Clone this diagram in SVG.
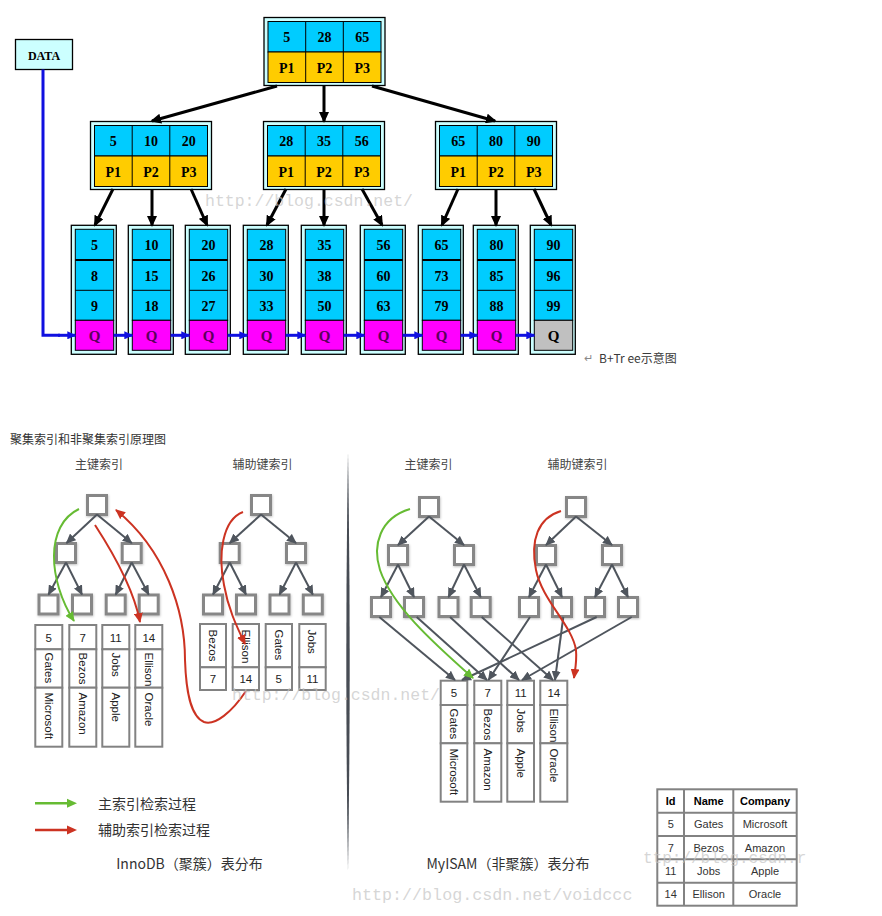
<svg xmlns="http://www.w3.org/2000/svg" width="882" height="916" viewBox="0 0 882 916">
<defs>
<style>
.ob{fill:#ccffff;stroke:#000;stroke-width:1.3}
.cy{fill:#00ccff;stroke:#000;stroke-width:1}
.gd{fill:#ffcc00;stroke:#000;stroke-width:1}
.mg{fill:#ff00ff;stroke:#000;stroke-width:1}
.gy{fill:#c0c0c0;stroke:#000;stroke-width:1}
.dv{stroke:#000;stroke-width:1}
.dv2{stroke:#000;stroke-width:2}
.tb{font-family:"Liberation Serif",serif;font-weight:bold;font-size:14px;text-anchor:middle;fill:#000}
.q{fill:#5a005a;font-size:15px}
.ba{stroke:#000;stroke-width:3;fill:none;marker-end:url(#ab)}
.bl{stroke:#1010e0;stroke-width:3;fill:none}
.bla{stroke:#1010e0;stroke-width:3;fill:none;marker-end:url(#abl)}
.sq{fill:#fff;stroke:#878787;stroke-width:3;filter:url(#sh)}
.ga{stroke:#4f555d;stroke-width:2;fill:none;marker-end:url(#ag)}
.cell{fill:#fff;stroke:#828282;stroke-width:2}
.st{font-family:"Liberation Sans",Arial,sans-serif;font-size:11.5px;fill:#222}
.mid{text-anchor:middle}
.cj{font-family:"Noto Sans CJK SC",sans-serif;fill:#333}
.gc{stroke:#66bb33;stroke-width:2;fill:none;marker-end:url(#agn)}
.rc{stroke:#cc3322;stroke-width:2;fill:none;marker-end:url(#ard)}
.wm{font-family:"Liberation Mono",monospace;font-size:16.5px;fill:#c4c4c4;fill-opacity:.7}
.tt{font-family:"Liberation Sans",Arial,sans-serif;font-size:11px;fill:#333;text-anchor:middle}
.th{font-weight:bold;fill:#000}
</style>
<marker id="ab" markerUnits="userSpaceOnUse" markerWidth="11" markerHeight="10" refX="9" refY="5" orient="auto"><path d="M0,0 L11,5 L0,10 z" fill="#000"/></marker>
<marker id="abl" markerUnits="userSpaceOnUse" markerWidth="9" markerHeight="8" refX="8" refY="4" orient="auto"><path d="M0,0 L9,4 L0,8 z" fill="#1010e0"/></marker>
<marker id="ag" markerUnits="userSpaceOnUse" markerWidth="10" markerHeight="9" refX="9" refY="4.5" orient="auto"><path d="M0,0 L10,4.5 L0,9 z" fill="#4f555d"/></marker>
<marker id="agn" markerUnits="userSpaceOnUse" markerWidth="10" markerHeight="9" refX="9" refY="4.5" orient="auto"><path d="M0,0 L10,4.5 L0,9 z" fill="#66bb33"/></marker>
<marker id="ard" markerUnits="userSpaceOnUse" markerWidth="10" markerHeight="9" refX="9" refY="4.5" orient="auto"><path d="M0,0 L10,4.5 L0,9 z" fill="#cc3322"/></marker>
<filter id="sh" x="-30%" y="-30%" width="160%" height="160%"><feDropShadow dx="0.5" dy="1" stdDeviation="1" flood-color="#000" flood-opacity="0.25"/></filter>
</defs>
<rect width="882" height="916" fill="#fff"/>

<!-- ========== B+Tree ========== -->
<g id="data">
<rect x="15.5" y="39.5" width="57" height="30" fill="#ccffff" stroke="#000" stroke-width="1.3"/>
<text x="44" y="59.5" class="tb" style="font-size:12px">DATA</text>
</g>

<g id="root">
<rect class="ob" x="264" y="17.5" width="121" height="68"/>
<rect class="cy" x="268" y="21.5" width="113" height="30.5"/>
<rect class="gd" x="268" y="52" width="113" height="30.5"/>
<line class="dv" x1="305.7" y1="21.5" x2="305.7" y2="82.5"/><line class="dv" x1="343.3" y1="21.5" x2="343.3" y2="82.5"/>
<text class="tb" x="286.8" y="42">5</text><text class="tb" x="324.5" y="42">28</text><text class="tb" x="362.2" y="42">65</text>
<text class="tb" x="286.8" y="72.5">P1</text><text class="tb" x="324.5" y="72.5">P2</text><text class="tb" x="362.2" y="72.5">P3</text>
</g>

<g id="n-left">
<rect class="ob" x="90.5" y="121.5" width="121" height="68"/>
<rect class="cy" x="94.5" y="125.5" width="113" height="30.5"/>
<rect class="gd" x="94.5" y="156" width="113" height="30.5"/>
<line class="dv" x1="132.2" y1="125.5" x2="132.2" y2="186.5"/><line class="dv" x1="169.8" y1="125.5" x2="169.8" y2="186.5"/>
<text class="tb" x="113.3" y="146">5</text><text class="tb" x="151" y="146">10</text><text class="tb" x="188.7" y="146">20</text>
<text class="tb" x="113.3" y="176.5">P1</text><text class="tb" x="151" y="176.5">P2</text><text class="tb" x="188.7" y="176.5">P3</text>
</g>

<g id="n-mid">
<rect class="ob" x="263.5" y="121.5" width="121" height="68"/>
<rect class="cy" x="267.5" y="125.5" width="113" height="30.5"/>
<rect class="gd" x="267.5" y="156" width="113" height="30.5"/>
<line class="dv" x1="305.2" y1="125.5" x2="305.2" y2="186.5"/><line class="dv" x1="342.8" y1="125.5" x2="342.8" y2="186.5"/>
<text class="tb" x="286.3" y="146">28</text><text class="tb" x="324" y="146">35</text><text class="tb" x="361.7" y="146">56</text>
<text class="tb" x="286.3" y="176.5">P1</text><text class="tb" x="324" y="176.5">P2</text><text class="tb" x="361.7" y="176.5">P3</text>
</g>

<g id="n-right">
<rect class="ob" x="435.5" y="121.5" width="121" height="68"/>
<rect class="cy" x="439.5" y="125.5" width="113" height="30.5"/>
<rect class="gd" x="439.5" y="156" width="113" height="30.5"/>
<line class="dv" x1="477.2" y1="125.5" x2="477.2" y2="186.5"/><line class="dv" x1="514.8" y1="125.5" x2="514.8" y2="186.5"/>
<text class="tb" x="458.3" y="146">65</text><text class="tb" x="496" y="146">80</text><text class="tb" x="533.7" y="146">90</text>
<text class="tb" x="458.3" y="176.5">P1</text><text class="tb" x="496" y="176.5">P2</text><text class="tb" x="533.7" y="176.5">P3</text>
</g>

<g id="leaf1" transform="translate(71.3,0)">
<rect class="ob" x="0" y="225.3" width="45" height="129"/>
<rect class="cy" x="4" y="229.3" width="38.4" height="91"/><rect class="mg" x="4" y="320.3" width="38.4" height="30"/>
<line class="dv2" x1="4" y1="260" x2="42.4" y2="260"/><line class="dv" x1="4" y1="290.3" x2="42.4" y2="290.3"/>
<text class="tb" x="23.2" y="250">5</text><text class="tb" x="23.2" y="280.5">8</text><text class="tb" x="23.2" y="310.5">9</text><text class="tb q" x="23.2" y="341">Q</text>
</g>
<g id="leaf2" transform="translate(128.3,0)">
<rect class="ob" x="0" y="225.3" width="45" height="129"/>
<rect class="cy" x="4" y="229.3" width="38.4" height="91"/><rect class="mg" x="4" y="320.3" width="38.4" height="30"/>
<line class="dv2" x1="4" y1="260" x2="42.4" y2="260"/><line class="dv" x1="4" y1="290.3" x2="42.4" y2="290.3"/>
<text class="tb" x="23.2" y="250">10</text><text class="tb" x="23.2" y="280.5">15</text><text class="tb" x="23.2" y="310.5">18</text><text class="tb q" x="23.2" y="341">Q</text>
</g>
<g id="leaf3" transform="translate(185.3,0)">
<rect class="ob" x="0" y="225.3" width="45" height="129"/>
<rect class="cy" x="4" y="229.3" width="38.4" height="91"/><rect class="mg" x="4" y="320.3" width="38.4" height="30"/>
<line class="dv2" x1="4" y1="260" x2="42.4" y2="260"/><line class="dv" x1="4" y1="290.3" x2="42.4" y2="290.3"/>
<text class="tb" x="23.2" y="250">20</text><text class="tb" x="23.2" y="280.5">26</text><text class="tb" x="23.2" y="310.5">27</text><text class="tb q" x="23.2" y="341">Q</text>
</g>
<g id="leaf4" transform="translate(243.3,0)">
<rect class="ob" x="0" y="225.3" width="45" height="129"/>
<rect class="cy" x="4" y="229.3" width="38.4" height="91"/><rect class="mg" x="4" y="320.3" width="38.4" height="30"/>
<line class="dv2" x1="4" y1="260" x2="42.4" y2="260"/><line class="dv" x1="4" y1="290.3" x2="42.4" y2="290.3"/>
<text class="tb" x="23.2" y="250">28</text><text class="tb" x="23.2" y="280.5">30</text><text class="tb" x="23.2" y="310.5">33</text><text class="tb q" x="23.2" y="341">Q</text>
</g>
<g id="leaf5" transform="translate(301.3,0)">
<rect class="ob" x="0" y="225.3" width="45" height="129"/>
<rect class="cy" x="4" y="229.3" width="38.4" height="91"/><rect class="mg" x="4" y="320.3" width="38.4" height="30"/>
<line class="dv2" x1="4" y1="260" x2="42.4" y2="260"/><line class="dv" x1="4" y1="290.3" x2="42.4" y2="290.3"/>
<text class="tb" x="23.2" y="250">35</text><text class="tb" x="23.2" y="280.5">38</text><text class="tb" x="23.2" y="310.5">50</text><text class="tb q" x="23.2" y="341">Q</text>
</g>
<g id="leaf6" transform="translate(360.3,0)">
<rect class="ob" x="0" y="225.3" width="45" height="129"/>
<rect class="cy" x="4" y="229.3" width="38.4" height="91"/><rect class="mg" x="4" y="320.3" width="38.4" height="30"/>
<line class="dv2" x1="4" y1="260" x2="42.4" y2="260"/><line class="dv" x1="4" y1="290.3" x2="42.4" y2="290.3"/>
<text class="tb" x="23.2" y="250">56</text><text class="tb" x="23.2" y="280.5">60</text><text class="tb" x="23.2" y="310.5">63</text><text class="tb q" x="23.2" y="341">Q</text>
</g>
<g id="leaf7" transform="translate(418.3,0)">
<rect class="ob" x="0" y="225.3" width="45" height="129"/>
<rect class="cy" x="4" y="229.3" width="38.4" height="91"/><rect class="mg" x="4" y="320.3" width="38.4" height="30"/>
<line class="dv2" x1="4" y1="260" x2="42.4" y2="260"/><line class="dv" x1="4" y1="290.3" x2="42.4" y2="290.3"/>
<text class="tb" x="23.2" y="250">65</text><text class="tb" x="23.2" y="280.5">73</text><text class="tb" x="23.2" y="310.5">79</text><text class="tb q" x="23.2" y="341">Q</text>
</g>
<g id="leaf8" transform="translate(473.3,0)">
<rect class="ob" x="0" y="225.3" width="45" height="129"/>
<rect class="cy" x="4" y="229.3" width="38.4" height="91"/><rect class="mg" x="4" y="320.3" width="38.4" height="30"/>
<line class="dv2" x1="4" y1="260" x2="42.4" y2="260"/><line class="dv" x1="4" y1="290.3" x2="42.4" y2="290.3"/>
<text class="tb" x="23.2" y="250">80</text><text class="tb" x="23.2" y="280.5">85</text><text class="tb" x="23.2" y="310.5">88</text><text class="tb q" x="23.2" y="341">Q</text>
</g>
<g id="leaf9" transform="translate(530.3,0)">
<rect class="ob" x="0" y="225.3" width="45" height="129"/>
<rect class="cy" x="4" y="229.3" width="38.4" height="91"/><rect class="gy" x="4" y="320.3" width="38.4" height="30"/>
<line class="dv2" x1="4" y1="260" x2="42.4" y2="260"/><line class="dv" x1="4" y1="290.3" x2="42.4" y2="290.3"/>
<text class="tb" x="23.2" y="250">90</text><text class="tb" x="23.2" y="280.5">96</text><text class="tb" x="23.2" y="310.5">99</text><text class="tb" x="23.2" y="341" style="font-size:15px">Q</text>
</g>

<g id="btree-connectors">
<line class="ba" x1="277" y1="86" x2="152" y2="121"/>
<line class="ba" x1="324" y1="86" x2="324" y2="121"/>
<line class="ba" x1="372" y1="86" x2="495" y2="121"/>
<line class="ba" x1="113" y1="189" x2="95" y2="225"/>
<line class="ba" x1="152" y1="189" x2="152" y2="225"/>
<line class="ba" x1="191" y1="189" x2="207" y2="225"/>
<line class="ba" x1="286" y1="189" x2="267" y2="225"/>
<line class="ba" x1="324" y1="189" x2="324" y2="225"/>
<line class="ba" x1="362" y1="189" x2="382" y2="225"/>
<line class="ba" x1="458" y1="189" x2="442" y2="225"/>
<line class="ba" x1="496" y1="189" x2="496" y2="225"/>
<line class="ba" x1="534" y1="189" x2="551" y2="225"/>
<polyline class="bl" points="43,69.5 43,335.3 60,335.3"/>
<line class="bla" x1="58" y1="335.3" x2="75.3" y2="335.3"/>
<line class="bla" x1="113.7" y1="335.3" x2="132.3" y2="335.3"/>
<line class="bla" x1="170.7" y1="335.3" x2="189.3" y2="335.3"/>
<line class="bla" x1="227.7" y1="335.3" x2="247.3" y2="335.3"/>
<line class="bla" x1="285.7" y1="335.3" x2="305.3" y2="335.3"/>
<line class="bla" x1="343.7" y1="335.3" x2="364.3" y2="335.3"/>
<line class="bla" x1="402.7" y1="335.3" x2="422.3" y2="335.3"/>
<line class="bla" x1="460.7" y1="335.3" x2="477.3" y2="335.3"/>
<line class="bla" x1="515.7" y1="335.3" x2="534.3" y2="335.3"/>
</g>

<text x="584" y="362" style="font-family:'Liberation Sans',sans-serif;font-size:11px;fill:#888">↵</text>
<text x="599" y="362.5" class="cj" style="font-size:12px;fill:#3a3a3a">B+Tr ee示意图</text>

<!-- ========== Clustered / non-clustered ========== -->
<text x="10" y="444" class="cj" style="font-size:12px;fill:#333">聚集索引和非聚集索引原理图</text>
<text x="99" y="468.5" class="cj mid" style="font-size:12px;fill:#444">主键索引</text>
<text x="262.5" y="468.5" class="cj mid" style="font-size:12px;fill:#444">辅助键索引</text>
<text x="428.5" y="468.5" class="cj mid" style="font-size:12px;fill:#444">主键索引</text>
<text x="577.5" y="468.5" class="cj mid" style="font-size:12px;fill:#444">辅助键索引</text>

<path id="divider" d="M348,452 Q351.4,661 348,871 Q344.6,661 348,452 Z" fill="#474c54"/>

<g id="inno-primary-tree">
<rect class="sq" x="87.5" y="495.5" width="19" height="19"/>
<rect class="sq" x="56.5" y="543.5" width="19" height="19"/>
<rect class="sq" x="122.2" y="543.5" width="19" height="19"/>
<rect class="sq" x="39" y="595" width="19" height="19"/>
<rect class="sq" x="72.5" y="595" width="19" height="19"/>
<rect class="sq" x="106.2" y="595" width="19" height="19"/>
<rect class="sq" x="139.2" y="595" width="19" height="19"/>
</g>
<g id="inno-secondary-tree">
<rect class="sq" x="251.5" y="495.5" width="19" height="19"/>
<rect class="sq" x="220.2" y="543.5" width="19" height="19"/>
<rect class="sq" x="286.5" y="543.5" width="19" height="19"/>
<rect class="sq" x="203.5" y="595" width="19" height="19"/>
<rect class="sq" x="236.5" y="595" width="19" height="19"/>
<rect class="sq" x="270" y="595" width="19" height="19"/>
<rect class="sq" x="303.3" y="595" width="19" height="19"/>
</g>
<g id="myisam-primary-tree">
<rect class="sq" x="419.5" y="497.5" width="19" height="19"/>
<rect class="sq" x="388.5" y="545.5" width="19" height="19"/>
<rect class="sq" x="454.5" y="545.5" width="19" height="19"/>
<rect class="sq" x="371.5" y="597.5" width="19" height="19"/>
<rect class="sq" x="404.5" y="597.5" width="19" height="19"/>
<rect class="sq" x="439" y="597.5" width="19" height="19"/>
<rect class="sq" x="471.2" y="597.5" width="19" height="19"/>
</g>
<g id="myisam-secondary-tree">
<rect class="sq" x="566.5" y="497.5" width="19" height="19"/>
<rect class="sq" x="536.5" y="545.5" width="19" height="19"/>
<rect class="sq" x="602.5" y="545.5" width="19" height="19"/>
<rect class="sq" x="519.5" y="597.5" width="19" height="19"/>
<rect class="sq" x="552.5" y="597.5" width="19" height="19"/>
<rect class="sq" x="585.5" y="597.5" width="19" height="19"/>
<rect class="sq" x="618.5" y="597.5" width="19" height="19"/>
</g>

<g id="inno-primary-table">
<rect class="cell" x="35.3" y="625" width="27" height="24.3"/><rect class="cell" x="35.3" y="649.3" width="27" height="38.4"/><rect class="cell" x="35.3" y="687.7" width="27" height="59"/>
<rect class="cell" x="69.3" y="625" width="27" height="24.3"/><rect class="cell" x="69.3" y="649.3" width="27" height="38.4"/><rect class="cell" x="69.3" y="687.7" width="27" height="59"/>
<rect class="cell" x="102.3" y="625" width="27" height="24.3"/><rect class="cell" x="102.3" y="649.3" width="27" height="38.4"/><rect class="cell" x="102.3" y="687.7" width="27" height="59"/>
<rect class="cell" x="135.3" y="625" width="27" height="24.3"/><rect class="cell" x="135.3" y="649.3" width="27" height="38.4"/><rect class="cell" x="135.3" y="687.7" width="27" height="59"/>
<text class="st mid" x="48.8" y="641.5">5</text><text class="st mid" x="82.8" y="641.5">7</text><text class="st mid" x="115.8" y="641.5">11</text><text class="st mid" x="148.8" y="641.5">14</text>
<text class="st" transform="translate(44.7,652.5) rotate(90)">Gates</text>
<text class="st" transform="translate(78.7,652.5) rotate(90)">Bezos</text>
<text class="st" transform="translate(111.7,652.5) rotate(90)">Jobs</text>
<text class="st" transform="translate(144.7,652.5) rotate(90)">Ellison</text>
<text class="st" transform="translate(44.7,692.5) rotate(90)">Microsoft</text>
<text class="st" transform="translate(78.7,692.5) rotate(90)">Amazon</text>
<text class="st" transform="translate(111.7,692.5) rotate(90)">Apple</text>
<text class="st" transform="translate(144.7,692.5) rotate(90)">Oracle</text>
</g>

<g id="inno-secondary-table">
<rect class="cell" x="200" y="624" width="26" height="43.3"/><rect class="cell" x="200" y="667.3" width="26" height="22.7"/>
<rect class="cell" x="232.7" y="624" width="26.3" height="43.3"/><rect class="cell" x="232.7" y="667.3" width="26.3" height="22.7"/>
<rect class="cell" x="265.7" y="624" width="26.3" height="43.3"/><rect class="cell" x="265.7" y="667.3" width="26.3" height="22.7"/>
<rect class="cell" x="299.3" y="624" width="26.4" height="43.3"/><rect class="cell" x="299.3" y="667.3" width="26.4" height="22.7"/>
<text class="st" transform="translate(208.9,629.5) rotate(90)">Bezos</text>
<text class="st" transform="translate(241.7,629.5) rotate(90)">Ellison</text>
<text class="st" transform="translate(274.7,629.5) rotate(90)">Gates</text>
<text class="st" transform="translate(308.4,629.5) rotate(90)">Jobs</text>
<text class="st mid" x="213" y="683">7</text><text class="st mid" x="245.8" y="683">14</text><text class="st mid" x="278.8" y="683">5</text><text class="st mid" x="312.5" y="683">11</text>
</g>

<g id="myisam-table">
<rect class="cell" x="440.7" y="680.7" width="26.6" height="24.3"/><rect class="cell" x="440.7" y="705" width="26.6" height="38.3"/><rect class="cell" x="440.7" y="743.3" width="26.6" height="58.4"/>
<rect class="cell" x="474.3" y="680.7" width="27" height="24.3"/><rect class="cell" x="474.3" y="705" width="27" height="38.3"/><rect class="cell" x="474.3" y="743.3" width="27" height="58.4"/>
<rect class="cell" x="507.3" y="680.7" width="26.7" height="24.3"/><rect class="cell" x="507.3" y="705" width="26.7" height="38.3"/><rect class="cell" x="507.3" y="743.3" width="26.7" height="58.4"/>
<rect class="cell" x="540.3" y="680.7" width="27" height="24.3"/><rect class="cell" x="540.3" y="705" width="27" height="38.3"/><rect class="cell" x="540.3" y="743.3" width="27" height="58.4"/>
<text class="st mid" x="454" y="697">5</text><text class="st mid" x="487.8" y="697">7</text><text class="st mid" x="520.7" y="697">11</text><text class="st mid" x="553.8" y="697">14</text>
<text class="st" transform="translate(449.9,708.5) rotate(90)">Gates</text>
<text class="st" transform="translate(483.7,708.5) rotate(90)">Bezos</text>
<text class="st" transform="translate(516.6,708.5) rotate(90)">Jobs</text>
<text class="st" transform="translate(549.7,708.5) rotate(90)">Ellison</text>
<text class="st" transform="translate(449.9,748.5) rotate(90)">Microsoft</text>
<text class="st" transform="translate(483.7,748.5) rotate(90)">Amazon</text>
<text class="st" transform="translate(516.6,748.5) rotate(90)">Apple</text>
<text class="st" transform="translate(549.7,748.5) rotate(90)">Oracle</text>
</g>

<g id="index-connectors">
<line class="ga" x1="97" y1="514.5" x2="66.5" y2="543"/>
<line class="ga" x1="97" y1="514.5" x2="131.7" y2="543"/>
<line class="ga" x1="66" y1="562.5" x2="48.5" y2="594.5"/>
<line class="ga" x1="66" y1="562.5" x2="82" y2="594.5"/>
<line class="ga" x1="131.7" y1="562.5" x2="115.7" y2="594.5"/>
<line class="ga" x1="131.7" y1="562.5" x2="148.7" y2="594.5"/>

<line class="ga" x1="261" y1="514.5" x2="229.7" y2="543"/>
<line class="ga" x1="261" y1="514.5" x2="296" y2="543"/>
<line class="ga" x1="229.7" y1="562.5" x2="213" y2="594.5"/>
<line class="ga" x1="229.7" y1="562.5" x2="246" y2="594.5"/>
<line class="ga" x1="296" y1="562.5" x2="279.5" y2="594.5"/>
<line class="ga" x1="296" y1="562.5" x2="312.8" y2="594.5"/>

<line class="ga" x1="429" y1="516.5" x2="398" y2="545"/>
<line class="ga" x1="429" y1="516.5" x2="464" y2="545"/>
<line class="ga" x1="398" y1="564.5" x2="381" y2="597"/>
<line class="ga" x1="398" y1="564.5" x2="414" y2="597"/>
<line class="ga" x1="464" y1="564.5" x2="448.5" y2="597"/>
<line class="ga" x1="464" y1="564.5" x2="480.7" y2="597"/>

<line class="ga" x1="576" y1="516.5" x2="546" y2="545"/>
<line class="ga" x1="576" y1="516.5" x2="612" y2="545"/>
<line class="ga" x1="546" y1="564.5" x2="529" y2="597"/>
<line class="ga" x1="546" y1="564.5" x2="562" y2="597"/>
<line class="ga" x1="612" y1="564.5" x2="595" y2="597"/>
<line class="ga" x1="612" y1="564.5" x2="628" y2="597"/>

<line class="ga" x1="379.3" y1="617" x2="455" y2="680"/>
<line class="ga" x1="416.7" y1="617" x2="487" y2="680"/>
<line class="ga" x1="450" y1="617" x2="519" y2="680"/>
<line class="ga" x1="481.7" y1="617" x2="553" y2="680"/>
<line class="ga" x1="530" y1="617" x2="488.5" y2="680"/>
<line class="ga" x1="563.3" y1="617" x2="555" y2="680"/>
<line class="ga" x1="596.7" y1="617" x2="462" y2="680"/>
<line class="ga" x1="631.7" y1="617" x2="522" y2="680"/>

<path class="gc" d="M79,509 C45,525 48,580 74,621"/>
<path class="rc" d="M95,525 C108,545 133,585 140,622"/>
<path class="rc" d="M246,691 C232,712 215,726 204,722 C190,716 186,690 185,660 C185,610 165,550 116,510"/>
<path class="rc" d="M243,512 C222,520 218,555 224,585 C228,608 236,625 245,644"/>
<path class="gc" d="M410,509 C380,518 372,545 380,570 C392,605 430,640 473,678"/>
<path class="rc" d="M561,511 C538,518 530,540 536,570 C542,600 572,625 576,650 C577,662 575,670 574,678"/>
</g>

<g id="legend">
<line x1="35" y1="803.3" x2="70" y2="803.3" stroke="#66bb33" stroke-width="2.5"/>
<path d="M67,798.8 L77,803.3 L67,807.8 z" fill="#66bb33"/>
<text x="98" y="808.5" class="cj" style="font-size:14px">主索引检索过程</text>
<line x1="35" y1="830" x2="70" y2="830" stroke="#cc3322" stroke-width="2.5"/>
<path d="M67,825.5 L77,830 L67,834.5 z" fill="#cc3322"/>
<text x="98" y="835" class="cj" style="font-size:14px">辅助索引检索过程</text>
</g>

<text x="189.5" y="869" class="cj mid" style="font-size:14px">InnoDB（聚簇）表分布</text>
<text x="508" y="869" class="cj mid" style="font-size:14px">MyISAM（非聚簇）表分布</text>

<g id="data-table">
<rect x="657.3" y="789.3" width="139.4" height="116.4" fill="#fff" stroke="#828282" stroke-width="2"/>
<line x1="684" y1="789.3" x2="684" y2="905.7" stroke="#828282" stroke-width="2"/>
<line x1="733.3" y1="789.3" x2="733.3" y2="905.7" stroke="#828282" stroke-width="2"/>
<line x1="657.3" y1="812.7" x2="796.7" y2="812.7" stroke="#828282" stroke-width="2"/>
<line x1="657.3" y1="836" x2="796.7" y2="836" stroke="#828282" stroke-width="2"/>
<line x1="657.3" y1="859.3" x2="796.7" y2="859.3" stroke="#828282" stroke-width="2"/>
<line x1="657.3" y1="882.7" x2="796.7" y2="882.7" stroke="#828282" stroke-width="2"/>
<text class="tt th" x="670.7" y="805">Id</text><text class="tt th" x="708.7" y="805">Name</text><text class="tt th" x="765" y="805">Company</text>
<text class="tt" x="670.7" y="828.3">5</text><text class="tt" x="708.7" y="828.3">Gates</text><text class="tt" x="765" y="828.3">Microsoft</text>
<text class="tt" x="670.7" y="851.7">7</text><text class="tt" x="708.7" y="851.7">Bezos</text><text class="tt" x="765" y="851.7">Amazon</text>
<text class="tt" x="670.7" y="875">11</text><text class="tt" x="708.7" y="875">Jobs</text><text class="tt" x="765" y="875">Apple</text>
<text class="tt" x="670.7" y="898.2">14</text><text class="tt" x="708.7" y="898.2">Ellison</text><text class="tt" x="765" y="898.2">Oracle</text>
</g>

<g id="watermarks">
<text class="wm" x="205" y="206">http://blog.csdn.net/</text>
<text class="wm" x="232" y="700">http://blog.csdn.net/</text>
<text class="wm" x="352" y="900" style="font-size:16.7px">http://blog.csdn.net/voidccc</text>
<text class="wm" x="643" y="863" style="font-size:16px">ttp://blog.csdn.r</text>
</g>
</svg>
